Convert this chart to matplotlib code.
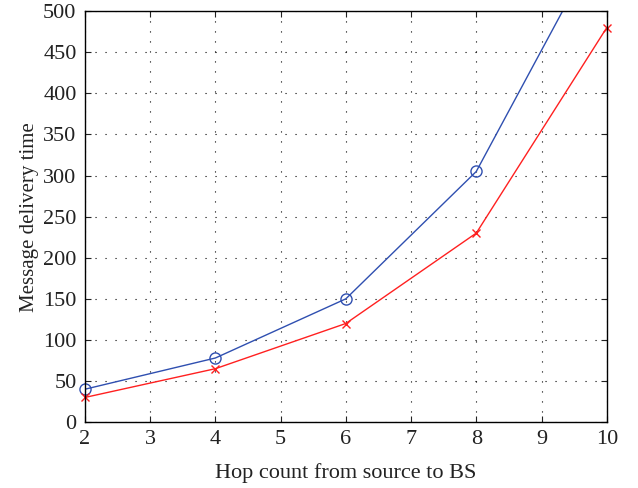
import matplotlib
matplotlib.use("Agg")
import matplotlib.pyplot as plt

hops = [2, 4, 6, 8, 10]
blue_values = [40, 78, 150, 305, 600]
red_values = [30, 65, 120, 230, 480]
xticks = [2, 3, 4, 5, 6, 7, 8, 9, 10]
yticks = [0, 50, 100, 150, 200, 250, 300, 350, 400, 450, 500]

plt.rcParams['font.family'] = ['Liberation Serif', 'DejaVu Serif']

fig = plt.figure(figsize=(6.38, 4.88), dpi=100)
ax = fig.add_axes([0.133, 0.135, 0.818, 0.842])

ax.plot(hops, blue_values, color='#2f4fb0', lw=1.0)
ax.plot(hops, red_values, color='#ff2020', lw=1.0)
ax.plot(hops, blue_values, ls='none', marker='o', ms=8, mfc='none',
        mec='#2f4fb0', mew=1.0, clip_on=False)
ax.plot(hops, red_values, ls='none', marker='x', ms=6, mec='#ff2020',
        mew=1.0, clip_on=False)

ax.set_xlim(2, 10)
ax.set_ylim(0, 500)
ax.set_xticks(xticks)
ax.set_yticks(yticks)
ax.tick_params(direction='in', top=True, right=True, labelsize=16, length=4,
               width=0.8, colors='#222222', pad=6)
ax.grid(True, linestyle=(0, (1, 8)), color='black', lw=0.8)
for s in ax.spines.values():
    s.set_linewidth(1.0)
    s.set_color('black')

ax.set_xlabel('Hop count from source to BS', fontsize=16, color='#222222', labelpad=10)
ax.set_ylabel('Message delivery time', fontsize=15, color='#222222', labelpad=3)

fig.savefig('out.png', dpi=100)
